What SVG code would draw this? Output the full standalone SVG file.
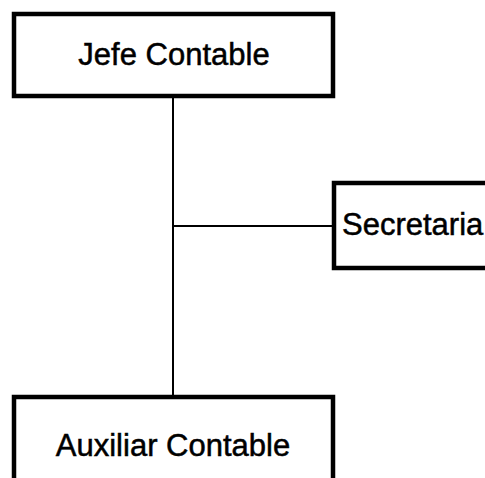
<svg xmlns="http://www.w3.org/2000/svg" width="485" height="478" viewBox="0 0 485 478">
  <style>
    .box { fill: #ffffff; stroke: #000000; stroke-width: 4.5; }
    .label { font-family: "Liberation Sans", Arial, sans-serif; font-size: 31px; fill: #000000; stroke: #000000; stroke-width: 0.5; }
    .link { stroke: #000000; stroke-width: 2; fill: none; }
  </style>
  <rect width="485" height="478" fill="#ffffff"/>
  <g id="connectors">
    <line class="link" x1="173" y1="97" x2="173" y2="396"/>
    <line class="link" x1="173" y1="226" x2="334" y2="226"/>
  </g>
  <g id="jefe-contable">
    <rect class="box" x="14" y="14" width="319" height="82"/>
    <text class="label" x="174" y="65" text-anchor="middle">Jefe Contable</text>
  </g>
  <g id="secretaria">
    <rect class="box" x="334" y="183" width="160" height="85"/>
    <text class="label" x="342" y="235">Secretaria</text>
  </g>
  <g id="auxiliar-contable">
    <rect class="box" x="14" y="397" width="319" height="95"/>
    <text class="label" x="173" y="456" text-anchor="middle">Auxiliar Contable</text>
  </g>
</svg>
